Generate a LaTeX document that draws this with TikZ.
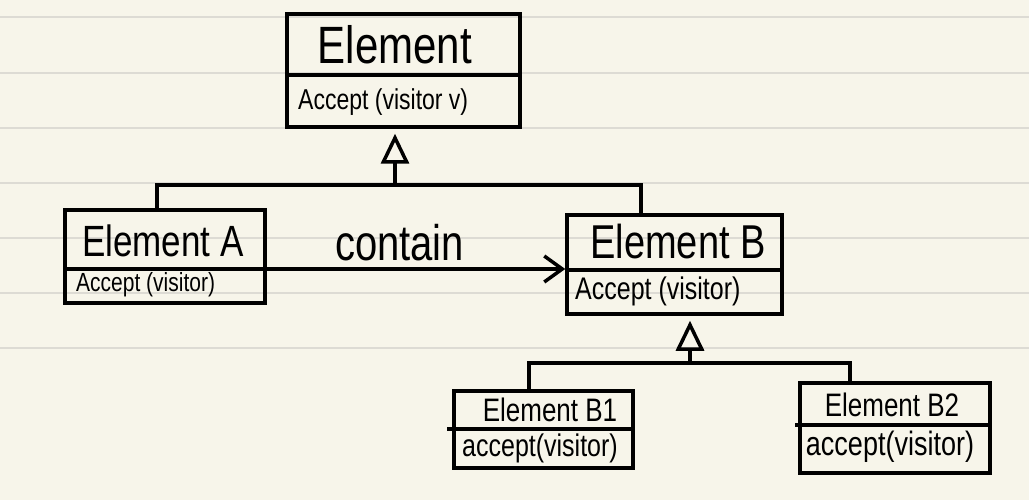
\documentclass[tikz,border=0pt]{standalone}
\usepackage{fontspec}
\usepackage{graphicx}
\setmainfont{Liberation Sans}
\usetikzlibrary{arrows.meta,calc}
\definecolor{paper}{RGB}{247,245,234}
\definecolor{ruleline}{RGB}{221,219,212}
\newcommand{\hw}[1]{\scalebox{1}[1.25]{#1}}
\begin{document}
\begin{tikzpicture}[x=1pt,y=-1pt,
  box/.style={draw=black,line width=3.5pt,rectangle,inner sep=0pt},
  ln/.style={line width=3.5pt,black},
  inh/.style={ln,-{Triangle[open,length=30pt,width=28pt,line width=3.5pt]},shorten >=5pt},
  assoc/.style={ln,-{Straight Barb[length=18pt,width=26pt,line width=3.5pt]}},
  title/.style={inner sep=0pt,font=\fontsize{#1}{#1}\selectfont},
  meth/.style={inner sep=0pt,anchor=west,font=\fontsize{#1}{#1}\selectfont}]
\fill[paper] (0,0) rectangle (1029,500);
\useasboundingbox (0,0) rectangle (1029,500);
\foreach \y in {17,73,128,183,238,293,348}
  \draw[ruleline,line width=1.5pt] (0,\y) -- (1029,\y);

% boxes
\node[box,minimum width=233pt,minimum height=113pt] (el) at (403.5,70.5) {};
\node[box,minimum width=200pt,minimum height=93pt] (a) at (165,256.5) {};
\node[box,minimum width=215pt,minimum height=99pt] (b) at (674.5,264.5) {};
\node[box,minimum width=179pt,minimum height=77pt] (b1) at (543.5,429.5) {};
\node[box,minimum width=190pt,minimum height=90pt] (b2) at (895,428) {};

% dividers
\draw[ln] (el.west |- 0,75) -- (el.east |- 0,75);
\draw[ln] (b.west |- 0,270) -- (b.east |- 0,270);
\draw[ln] ([xshift=-5pt]b1.west |- 0,429) -- (b1.east |- 0,429);
\draw[ln] ([xshift=-3pt]b2.west |- 0,425) -- (b2.east |- 0,425);

% texts
\node[title=42] (elt) at (395,45) {\hw{Element}};
\node[meth=23] (elm) at (298,102) {\hw{Accept (visitor v)}};
\node[title=35] (at) at (163,241) {\hw{Element A}};
\node[meth=21] (am) at (76,285) {\hw{Accept (visitor)}};
\node[title=38] (bt) at (678,242) {\hw{Element B}};
\node[meth=25] (bm) at (575,291) {\hw{Accept (visitor)}};
\node[title=26] (b1t) at (550,410) {\hw{Element B1}};
\node[title=25] (b1m) at (540,448) {\hw{accept(visitor)}};
\node[title=26] (b2t) at (892,405) {\hw{Element B2}};
\node[title=27] (b2m) at (890,447) {\hw{accept(visitor)}};

% inheritance to Element
\coordinate (j1) at (395,185);
\draw[ln] ([xshift=-8pt]a.north) |- (j1) -| ([xshift=-33.5pt]b.north);
\draw[inh] (j1) -- (j1 |- el.south);

% inheritance to Element B
\coordinate (j2) at (690,363);
\draw[ln] ([xshift=-14.5pt]b1.north) |- (j2) -| ([xshift=-45pt]b2.north);
\draw[inh] (j2) -- (j2 |- b.south);

% association (continues A's divider)
\coordinate (adiv) at (63,269);
\draw[assoc] (adiv) -- (b.west |- adiv)
  node[pos=0.67,above=6pt,title=40] (contain) {\hw{contain}};
\end{tikzpicture}
\end{document}
